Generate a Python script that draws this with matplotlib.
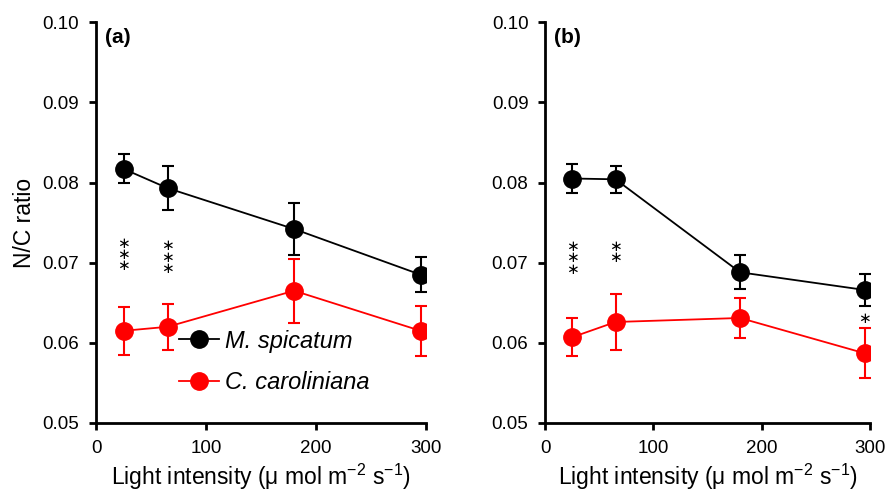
import matplotlib
matplotlib.use('Agg')
import matplotlib.pyplot as plt
import numpy as np

plt.rcParams['font.family'] = ['Liberation Sans', 'DejaVu Sans']
plt.rcParams['mathtext.fontset'] = 'custom'
plt.rcParams['mathtext.rm'] = 'Liberation Sans'

light = [25, 65, 180, 295]

# panel (a)
a_ms = [0.0817, 0.0793, 0.0742, 0.0685]
a_ms_err = [0.0018, 0.0027, 0.0032, 0.0022]
a_cc = [0.0615, 0.0620, 0.0665, 0.0615]
a_cc_err = [0.0030, 0.0029, 0.0040, 0.0031]
a_sig = [3, 3, 0, 0]          # number of asterisks
a_sig_y = [0.0710, 0.0707, 0, 0]

# panel (b)
b_ms = [0.0805, 0.0804, 0.0688, 0.0666]
b_ms_err = [0.0018, 0.0017, 0.0021, 0.0020]
b_cc = [0.0607, 0.0626, 0.0631, 0.0587]
b_cc_err = [0.0024, 0.0035, 0.0025, 0.0031]
b_sig = [3, 2, 0, 1]
b_sig_y = [0.0706, 0.0713, 0, 0.0630]

fig = plt.figure(figsize=(8.85, 4.93), dpi=100)
ax1 = fig.add_axes([0.1085, 0.142, 0.373, 0.813])
ax2 = fig.add_axes([0.616, 0.142, 0.367, 0.813])


def draw(ax, ms, ms_err, cc, cc_err, sig, sy, label):
    ax.errorbar(light, ms, yerr=ms_err, color='black', marker='o', ms=12.5,
                lw=1.3, elinewidth=1.5, capsize=4, capthick=1.5,
                label='M. spicatum', zorder=3)
    ax.errorbar(light, cc, yerr=cc_err, color='#ff0000', marker='o', ms=12.5,
                lw=1.3, elinewidth=1.5, capsize=4, capthick=1.5,
                label='C. caroliniana', zorder=3)
    # stacked significance asterisks
    for x, n, y in zip(light, sig, sy):
        if n:
            ax.text(x, y, '\n'.join(['\u2217'] * n), ha='center',
                    va='center', fontsize=11, family='DejaVu Sans',
                    linespacing=0.68)
    ax.set_xlim(0, 300)
    ax.set_ylim(0.05, 0.10)
    ax.set_xticks([0, 100, 200, 300])
    ax.set_yticks(np.arange(0.05, 0.1001, 0.01))
    ax.yaxis.set_major_formatter(matplotlib.ticker.FormatStrFormatter('%.2f'))
    ax.spines['top'].set_visible(False)
    ax.spines['right'].set_visible(False)
    ax.spines['left'].set_linewidth(2)
    ax.spines['bottom'].set_linewidth(2)
    ax.tick_params(width=2, length=5, labelsize=13.5, pad=7)
    ax.set_xlabel('Light intensity (\u03bc mol m$^{-2}$ s$^{-1}$)',
                  fontsize=16.5, labelpad=4)
    ax.text(0.027, 0.985, label, transform=ax.transAxes, fontsize=15,
            fontweight='bold', va='top', ha='left')


draw(ax1, a_ms, a_ms_err, a_cc, a_cc_err, a_sig, a_sig_y, '(a)')
draw(ax2, b_ms, b_ms_err, b_cc, b_cc_err, b_sig, b_sig_y, '(b)')
ax1.set_ylabel('N/C ratio', fontsize=16.5, labelpad=5)

h, l = ax1.get_legend_handles_labels()
h = [hh[0] for hh in h]
ax1.legend(h, l, loc='lower left', bbox_to_anchor=(0.2, 0.03),
           frameon=False, prop={'style': 'italic', 'size': 17},
           handlelength=1.7, handletextpad=0.25, labelspacing=0.8,
           borderpad=0.2)

fig.savefig('out.png', dpi=100)
